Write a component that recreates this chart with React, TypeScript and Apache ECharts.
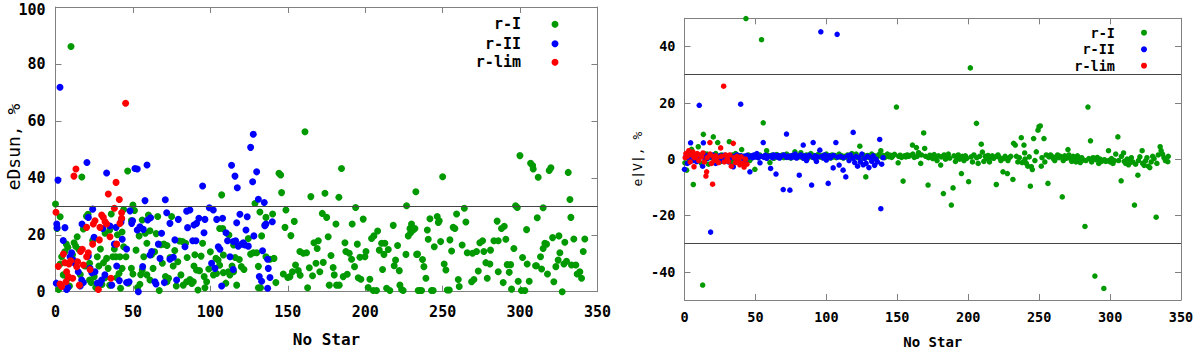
import React, { useEffect, useRef } from "react";
import * as echarts from "echarts";

// ---------- data (x = star number, y = value) ----------
const leftGreen: number[][] = [
  [0,30.8],[1,22.2],[2,0.8],[3,26.3],[3,9.7],[4,12.3],[5,5.9],[6,14],[7,16.7],[8,15.6],[8,4.7],[9,2],[10,86.1],[11,13],[12,17.2],[13,16.0],[14,19.3],[15,14.9],[16,6],[17,40.3],[18,22],[19,9],[20,26.5],[21,27.2],[22,10],[22,4.1],[23,3.2],[24,18],[25,5.3],[26,1.5],[27,12.3],[28,9],[29,15],[30,2.5],[31,10.2],[32,20.5],[32,4.9],[33,11.7],[34,8.2],[35,2.3],[35,21.7],[36,27.3],[37,12.3],[38,15],[39,12.3],[39.5,4.9],[40,20],[41,6.4],[41.6,12.3],[42,1.2],[43,8.2],[43,21],[44,28.9],[44,15.8],[45.5,12.3],[46.6,42.4],[47,3],[49,25],[49,8.2],[50,30.4],[51,28.5],[50,6.2],[52,14.6],[53,1.5],[54,19.6],[54.5,2.6],[55,6],[56,25.2],[56,7.6],[57,12.3],[58,20.5],[59,17],[59,5.9],
  [60,26.9],[61,21.4],[61,4.1],[62,13],[63,8.2],[64,14],[65,20.4],[66,26.4],[67,0.4],[68,16.5],[69,10],[70,16.7],[71,5.3],[72,16.2],[72,3.5],[73,4.7],[74,12],[75,26.4],[76,9],[77,14.5],[78,2],[79,10.5],[80,17.8],[81,5.9],[82,17.6],[82.5,2.3],[84,17],[84.7,3.5],[85,12],[86.8,4.3],[88,2.9],[89,3.5],[89.4,9],[90,13],[91,7.6],[92,0.6],[93,7.4],[94,12.5],[95,17],[96,5.3],[96.5,1.4],[97.6,3.5],[99,8],[100,14],[102,5.9],[103.6,11.7],[104,6.4],[105,11.1],[106,22.2],[106,9.3],[107.3,34],[108,22.2],[108.4,12.9],[108.4,6.7],[110,3],[111.6,7],[112,19.9],[112.6,5.9],[114,9],[115,7],[115,16.4],[116,12],[117,2.3],
  [118.7,11.3],[120,8.8],[121.7,7.8],[124.5,18.7],[126,13.2],[127.7,13.7],[128.8,31],[129.9,13.7],[131,8.9],[131,1.4],[132,28],[132.4,1.4],[133.1,19.6],[135.2,23.4],[135.9,26.1],[135.9,12.3],[138.5,11.4],[140.2,27.3],[141.1,11.7],[142.3,3.2],[144.3,41.6],[145.4,41],[146,34.8],[147.1,6.2],[148.2,22.6],[148.8,28.7],[150,5],[151.4,5.3],[152,19.7],[153,7],[154.2,24.7],[155,9.4],[156.8,7.4],[157.8,14.1],[158,5.8],[160,13.5],[161.1,56.2],[162.1,13.7],[162.8,1.4],[163.9,8.4],[164.9,33.4],[166,5.6],[166.9,17.2],[168.2,10],[169,15.2],[169.7,17.9],[170.7,7],[172.3,27.5],[172.9,10.3],[174,34.6],[175.1,26.1],[176.1,19.3],[176.8,2.3],[177.9,12.7],[179.3,8.5],[180,5.9],[181.1,23.8],[181.5,2.3],[183,33.2],[183.2,2.3],[184.7,43.3],[185.8,5.3],[186.9,17.2],[187.5,14.1],[188.4,6.1],[189.7,13.5],[191.2,11.4],[191.6,23.8],[193.1,8.8],[193.8,29.6],[194.9,16.7],[195.5,4.9],[196.6,12.1],[197.2,4.4],[198.7,25.5],[199.8,12.3],[200.5,14.1],[201.9,1.5],[203,4.4],[204.1,18.7],[205.2,0.4],[205.6,19.6],[207.3,0.4],[208,21.3],[209.1,14.6],[210.6,17],[211.2,7.8],[212.1,13.1],[212.7,17],[213.8,1.2],[214.9,14.8],[215.9,0.4],[218.1,23.3],[218.7,9.1],[219.6,11.1],[220.9,16.2],[222,7.4],[222.4,2.3],[223.5,0.8],[224.5,0.4],[226.3,13.1],[226.7,30.2],[227.8,19.6],[228.9,22.2],[229.9,23.8],[231,21.7],[232.7,35.1],[233.2,13.1],[234.2,0.4],
  [229.3,20.7],[232.1,22.2],[233.8,13.2],[235.3,0.4],[236.4,0.4],[237,11.3],[237.9,8.8],[239.2,4.7],[240.1,21.7],[240.7,18.4],[241.8,25.6],[242.8,0.4],[243.9,0.4],[244.6,15.8],[246.5,26.4],[247.2,24.3],[247.8,24.9],[248.7,17.6],[250,40.4],[251,9.7],[252.1,7.6],[253,0.6],[254.3,0.6],[254.7,18.2],[255.8,14.3],[256.8,22.6],[257.9,22.2],[259,27.3],[260.1,4.3],[260.7,1.8],[262.6,16.4],[264,29.3],[265,24.5],[265.9,13.7],[268.7,3.5],[269.3,13.5],[270.2,4.3],[271.9,14.1],[273,7.3],[274,17.2],[275.8,17.9],[276.6,14.1],[277.9,10.2],[278.8,4.7],[280.5,9.7],[280.9,14.6],[283.1,17.9],[285.2,24.8],[285.9,7],[285.9,17.9],[288,22.2],[289.1,3.2],[289.8,23],[290.8,18.4],[291.7,9.5],[293,6.8],[293.9,9.5],[294.5,0.9],[296,15.2],[297.1,30.2],[298.2,29.6],[298.8,3.7],[299.9,47.8],[300.9,0.4],[301.6,12],[303.1,0.4],[304.2,21.8],[304.6,9.7],[305.9,3.7],[306.8,45.1],[308.1,44.3],[308.5,43.1],[310,9.1],[310.6,9.1],[311.1,26],[311.7,40.2],[313.2,12.3],[313.9,8],[314.9,15.2],[314.9,29.5],[316,17],[317.1,16.7],[317.7,6.2],[318.8,42.6],[319.9,43.5],[321,19],[321.8,3.5],[323.1,8.8],[324.6,11.1],[325.1,19.6],[325.7,13.7],[327.2,0],[328.3,9.7],[328.9,17.4],[330,10.7],[331.1,41.9],[332.2,32.4],[332.8,26.1],[333.2,9.4],[334.7,18.5],[336,9.4],[336.9,6.2],[338.6,7],[339.7,4.7],[340.8,14.1],[341.8,18.5]
];
const leftBlue: number[][] = [
  [0.8,23.8],[1,22.5],[1.6,39.2],[0.5,3],[2.9,71.8],[5,18],[6.1,22.5],[7.2,0.8],[8,1.5],[9.4,12.3],[10.4,13.7],[11.5,11.1],[12.6,9.9],[14.7,7],[16,2],[16.9,4.1],[17.1,23.8],[18,3.2],[20.3,45.4],[21.2,12.5],[21.2,26.1],[22.3,8.2],[23.4,6.7],[24,29],[24.9,19.1],[25.5,7],[27,3],[28.7,2.9],[29.8,4.1],[30.5,22.2],[31.9,5.9],[33,41.7],[35.2,23.1],[36.3,2.3],[38,16.7],[39.1,22.6],[39.5,9],[41.2,3.9],[42.3,24.4],[42.7,25.5],[43.1,18.4],[45.9,15],[45.9,3.2],[47.5,3.5],[48.1,28.4],[49.2,24],[49.8,24.9],[51.3,43.3],[52.8,43.1],[52.8,21.7],[53.5,0],[54.5,22.8],[56.3,8.8],[56.7,21.9],[57.8,32],[59.1,44.5],[59.5,25.2],[61,12.9],[61.4,26],[62.1,14.1],[64.2,3.5],[64.9,2.7],[66.4,16.7],[67.5,11.7],[68.5,20.5],[70.3,3.2],[70.9,32.3],[71.8,27.7],[73.9,24],[73.9,11.4],[76.1,12.1],[77.1,18.2],[78.2,4.1],[79.3,25.4],[83.6,15.8],[84.7,28.3],[85.3,22.5],[86.8,28.7],[88.6,17.9],[89.4,23.4],[90.7,17.9],[91.1,24],[92.6,25.8],[95,37.1],[95.9,20.7],[96.5,25.4],[99.3,29.5],[100.8,10],[101.9,28.7],[103,8.2],[104.1,25.4],[105.1,15.8],[106.2,14.9],[107.3,2],[107.9,25.8],[110.1,20.7],[111.1,17.9],[112.7,12.3],[113.7,44.4],[114.8,17.6],[114.8,7.8],[115.9,40.6],[116.3,17.9],[117,24.2],[117.4,36.5],[118,16],[119.1,27.2],[120.2,16.7],[121.3,17.2],[122.3,16.4],[123,21.7],[123.8,26.3],[124.5,16],[126,50.7],[127.3,38.6],[127.7,55.3],[128.1,19.6],[129.9,42.1],[131,32.5],[131.6,5.3],[133.1,3.7],[133.7,14.4],[134.8,31.3],[135.2,23.2],[135.9,23.8],[137,11.4],[137,1.2],[137.4,8.2],[138.5,5],[140,24.6]
];
const leftRed: number[][] = [
  [0.3,27.9],[1.8,8.9],[2.9,2.7],[4,1.8],[5.1,13.2],[6.1,10.2],[6.8,3.5],[7.2,7],[8.3,5.3],[8.7,9.7],[9.8,10.9],[11.1,4.7],[11.9,40.6],[13.2,43.1],[13.7,8.8],[14.3,10.5],[15.4,2.3],[16.2,14.1],[17.3,14.9],[18,9.4],[20.1,12.3],[20.1,22.6],[21.2,13.7],[22.3,7.8],[24,16.7],[24.4,23.8],[25.5,24.9],[27.7,0.8],[28.3,18.2],[28.7,22.6],[29.8,26.9],[30.9,26.1],[32,24.6],[33,23.8],[34.1,34.3],[35.2,19.3],[35.8,4.7],[38,29.3],[39.1,38.4],[39.5,16.7],[41.2,32.4],[41.6,24],[42.7,25.8],[42.7,27.7],[45.3,66.2]
];

const rightGreen: number[][] = [
  [0.3,-1.3],[1.5,-3.9],[3,-1],[4,2],[5,3.5],[6.2,-9],[7,0.5],[8,1.5],[9.7,4.4],[11,1],[12,-1.5],[12.8,-44.7],[13.3,8.8],[14,2],[15,0],[16,1.8],[17,-1.8],[18,0.5],[19,1],[20.3,7.9],[21,-0.5],[22,2],[23.4,5.9],[24,0.5],[25,-1],[26,1.5],[27,0.8],[28,-0.5],[29,1],[30,0],[31.6,6.2],[32,1.2],[33,-1],[34,1.5],[35,0.3],[36,2],[37,1],[38,-0.8],[39,1.2],[40.3,3.4],[41,0.5],[42,1],[43.3,49.9],[44,0.8],[45,1.5],[46,-0.5],[47,1],[48,0.5],[49.6,-3.6],[50,1],
  [51,1.2],[52,0.5],[53,1.5],[54.3,42.4],[55.5,12.9],[56,1],[57.9,3],[58,0.5],[59,1.3],[60.2,-1.2],[61,0.8],[62,1.5],[63,0.3],[64,1],[65,1.6],[66,0.6],[67,1.2],[68,0.8],[69,1.5],[70,0.5],[71,1],[72,1.8],[73,0.6],[74,1.2],[75,0.4],[76,1],[77.8,2.6],[78,0.8],[79,1.4],[80,0.6],[81,1.1],[82,2.3],[83,0.5],[84,1.2],[85,0.8],[86,1.5],[87,0.4],[88,1],[89,2],[90,0.7],[91,1.3],[92,0.3],[93,1],[94,1.6],[95,0.8],[96,1.2],[97,0.5],[98,1.4],[99,0.9],[100,1.8],[101,0.6],[102,1.1],[103,0.4],[104,1.5],[105,0.8],[106,1.3],[107,0.5],[108,1],[109,1.8],[110,0.7],[111,1.2],[112,0.4],[113,1],
  [114,0.8],[115,1.5],[116,0.3],[117,1.2],[118,2],[119,0.6],[120,1],[121,1.8],[122,0.5],[123.6,4.6],[124,1],[125,0.4],[126,1.5],[127.8,-6.3],[128,0.8],[129,1.3],[130,0.5],[131,1.1],[132,1.8],[133,0.7],[134,1.2],[135,0.3],[136,1],[137,1.6],[138.4,3],[139,0.8],[140,1.3],[141,0.5],[142,1.2],[143,1.8],[144,0.9],[145,1.4],[146,0.6],[147,1.2],[148,1.7],[149.4,18.5],[150.6,-1.3],[151,1],[152,1.4],[153,0.6],[154.1,-7.8],[155,1.2],[156,0.8],[157,1.5],[158,1],[159,1.3],[160.7,5],[161,1.8],[162,0.6],[163.5,4.1],[164,1],[165,2.3],[166.5,-1.5],[167,1.5],[168.6,9.3],[169.3,3.8],[170,1],[171.7,-9.2],[172,0.5],[173,1.4],[174,0.8],[175,0.2],[176,1.6],[177,0.5],[178,-0.5],[179,1.2],[180.6,-2.1],[181,0.8],[182.5,-12.2],[183,1.5],[184,0],[185,1],[186,1.8],[187,0.4],[188.1,-16.3],[189.3,-10.2],[190,1.2],[191,-0.8],[192,0.6],[193,1.5],[194,0],[195.2,-5.1],[196,1],[197,-0.5],[198,1.2],[199,0.3],[200.3,-8],[201.5,32.4],[202,0.8],[203,-1],[204,1.5],[205.8,12.7],[206,0.5],[207,-1.5],[208,1],[209.2,5.3],[210,2.5],[211,-0.8],[212,1],[213,0.2],[214,1.3],[215,-1],[216,0.5],[217,1.2],[218,0.3],[219.8,-9],[220,1],[221,1.5],[222,0.6],[223,-0.5],[224.5,-4.5],[225,0.2],[226,1],[227.6,-5.1],[228,-0.5],[229,0.5],[230,1],[231.5,-7.2],[232,5.6],
  [233.2,5],[234,1],[235,-1],[236,0.5],[237.4,7.6],[238,-1.2],[239.3,5],[239.8,2.2],[240,0],[241,-1.5],[242,-2.5],[243,0.8],[243.8,-9.6],[244.5,-2.7],[245.2,-3.7],[246.1,7.3],[247,-0.5],[248,2.6],[249.2,10.3],[249.9,11.5],[250.8,11.8],[251.5,-2.5],[252,0.5],[253.4,7.3],[254,-1],[255,1.5],[256.2,-8.6],[257,0.8],[258,1.5],[259,1],[260,0.2],[261,-0.5],[262,0.8],[263,1.5],[264,0.5],[265,1],[266.3,-13.4],[267,-0.5],[268,1.2],[269,0.3],[270.3,3.4],[271,1.5],[272,0.2],[273,-0.8],[274,1],[275,0.5],[276,-1],[277,1.2],[278,0],[279,-1.2],[280,0.5],[281,-0.3],[282.3,-23.9],[283,-0.5],[284.4,18.5],[285,0.2],[286.2,6.5],[287,-1],[288,0.5],[289.3,-41.5],[290,-0.2],[291,0.6],[292,-1.5],[293,0],[294,-0.8],[295.6,-45.9],[296,-0.2],[297,-0.8],[298.9,3],[299,-0.5],[300,-1],[301,0.2],[302,-1.5],[303,-0.5],[304,1.8],[305.5,7.9],[306,-0.5],[307.8,-7.7],[308,1],[309.5,2.2],[310,-0.8],[311,-1.5],[312,0],[313,-2],[314,-1.2],[315,0.5],[316,-1],[317.2,-16.3],[318,-1.8],[319.6,-5.7],[320,-0.5],[321,0.8],[322.6,3],[323,-1.5],[324,-2.2],[325,-0.6],[326,0.5],[327,-2.5],[328,-3],[329,-1],[330,1],[331,0.2],[332.5,-20.6],[333,-1.5],[334,1.5],[335.3,4.4],[336,3],[337,1.8],[338,0.5],[339,-0.5],[340.7,-0.9],[341,1]
];
const rightBlue: number[][] = [
  [0,-3.6],[1,1],[2,-1.5],[3,0.5],[4.3,5.8],[5,1.2],[6,-0.5],[7,1.5],[8.6,-0.9],[9,0.8],[10.4,19.1],[11,1.2],[12.8,-2.5],[13.3,5.8],[14,0.5],[15,1.3],[16,0.2],[17,1],[18.4,-25.9],[19,0.8],[20,1.5],[21,0.3],[22,-1.5],[23,1],[24,0.5],[25,1.2],[26,-0.5],[27,0.8],[28,1.4],[29,0.2],[30,1],[31,-1],[32,1.3],[33,0.5],[34.4,-2.7],[35,1],[36,0.4],[37,1.5],[38,0.7],[39.6,19.5],[40,1.2],[41,0.3],[42,1],[43,-0.5],[44,1.3],[45,0.6],[46.1,-4.5],[47,1.2],[48,0.5],[49,1.5],[50,0.8],[51,2],[52,0.5],[53.2,-1.3],[54,1],[55.5,5.9],[56,0.6],[57,1.4],[58,0.3],[59,1],[60.7,-3.3],[61,1.2],[62,0.5],[63,1.5],[64.5,-5.3],[65,0.8],[66,1.3],[67,0.4],[68,1],[69.6,-10.8],[70,1.5],[71.9,8.9],[72,0.6],[73,1.1],[74.3,-11],[75,0.5],[76,1.3],[77,0.8],[78,1.8],[79,0.4],[80.9,-5.7],[81,1],[82,1.5],[83.7,5],[84,0.3],[85,1.2],[86,-0.5],[87,0.8],[88,1.4],[89.6,-9.2],[90.7,5.9],[91,0.5],[92,1.2],[93,-0.8],[94,0.8],[95.4,3.2],[96.1,45.2],[97,1],[98,0.4],[99,1.5],[100,-0.3],[101.3,-8.6],[102,1.2],[103,0.5],[104.8,-3.1],[105,1.3],[106.7,5.9],[107.6,44.3],[108,0.7],[109,-2.1],[110,1],[111.8,-3.9],[112,0.5],[113.7,-6.3],[115,1.2],[116,-0.5],[117,1.5],[118.9,9.5],[119,0.3],[120,-1.2],[121,1],[122,-2.5],[123,0.5],[124,-1],[125,1.8],[126,-2],[127,0.2],[128,-1.5],[129,1],[130,-3],[131,0.5],[132,-0.8],[133,1.2],[134,-2.2],[135,0],[136,-1],[137.6,7],[138.4,-17.6],[139,-1.8],[140,0.5]
];
const rightRed: number[][] = [
  [0.5,0.5],[1,2],[2,1],[3,3],[4,-1],[5,1.5],[6,2.5],[6.7,-2.7],[7,0.5],[8,1],[9,2],[10,-0.5],[11,1.5],[12,0.8],[13,2.2],[14,-1],[15.1,-6],[15.6,-4.5],[16,0.5],[17.9,5.9],[18,1.8],[19,-1.5],[19.8,-8.9],[20,1],[21,-0.5],[22,1.2],[23,0.5],[24,-1.2],[25.5,4],[26,1],[27.6,25.9],[28,-1],[29,1.5],[30,0.2],[31,-0.8],[32,1.5],[33,-2.5],[34.4,5.6],[35,0.5],[36,-1.2],[37,1],[38,-0.5],[39,-2],[40,0.8],[41,-1.5],[42,-2.8],[43,0],[44,-1.8]
];

const seriesNames = ["r-I", "r-II", "r-lim"];
const seriesColors = ["#009900", "#0000ff", "#ff0000"];
const leftLimit = [30];
const rightLimits = [30, -30];
const leftYTitle = "eDsun, %";

const FONT = "DejaVu Sans Mono";
const BORDER = "#808080";

function frameAxis(grid: number, pos: string, min: number, max: number, extra: any = {}) {
  return {
    type: "value",
    gridIndex: grid,
    position: pos,
    min,
    max,
    axisLine: { show: true, onZero: false, lineStyle: { color: BORDER, width: 1 } },
    axisTick: { show: true, inside: true, length: 6, lineStyle: { color: BORDER } },
    axisLabel: { show: false },
    splitLine: { show: false },
    ...extra,
  };
}

export default function App() {
  const ref = useRef<HTMLDivElement>(null);
  useEffect(() => {
    if (!ref.current) return;
    const chart = echarts.init(ref.current, undefined, { renderer: "svg" });
    const lblL = { show: true, fontFamily: FONT, fontWeight: "bold", fontSize: 15, color: "#000" };
    const lblR = { show: true, fontFamily: FONT, fontWeight: "bold", fontSize: 13.5, color: "#000" };
    const refLine = (vals: number[]) => ({
      silent: true,
      symbol: "none",
      label: { show: false },
      lineStyle: { color: "#444", width: 1, type: "solid" },
      data: vals.map((v) => ({ yAxis: v })),
    });
    const legend = (xText: number, xDot: number, ys: number[], size: number, r: number) =>
      ys.flatMap((y, i) => [
        {
          type: "text",
          x: xText,
          y,
          style: {
            text: seriesNames[i],
            fontFamily: FONT,
            fontWeight: "bold",
            fontSize: size,
            fill: "#000",
            textAlign: "right",
            textVerticalAlign: "middle",
          },
        },
        { type: "circle", shape: { cx: xDot, cy: y, r }, style: { fill: seriesColors[i] } },
      ]);
    const pts = (size: number, color: string) => ({
      symbolSize: size,
      itemStyle: { color, opacity: 1 },
    });

    chart.setOption({
      animation: false,
      backgroundColor: "#fff",
      grid: [
        { left: 55.5, top: 7, width: 542, height: 284.7, outerBoundsMode: "none", containLabel: false },
        { left: 684.5, top: 18.3, width: 496.5, height: 281.7, outerBoundsMode: "none", containLabel: false },
      ],
      xAxis: [
        frameAxis(0, "bottom", 0, 350, {
          interval: 50,
          axisLabel: { ...lblL, margin: 13 },
          name: "No Star",
          nameLocation: "middle",
          nameGap: 40,
          nameTextStyle: { fontFamily: FONT, fontWeight: "bold", fontSize: 16, color: "#000" },
        }),
        frameAxis(0, "top", 0, 350, { interval: 50 }),
        frameAxis(1, "bottom", 0, 350, {
          interval: 50,
          axisLabel: { ...lblR, margin: 10 },
          name: "No Star",
          nameLocation: "middle",
          nameGap: 35,
          nameTextStyle: { fontFamily: FONT, fontWeight: "bold", fontSize: 14, color: "#000" },
        }),
        frameAxis(1, "top", 0, 350, { interval: 50 }),
      ],
      yAxis: [
        frameAxis(0, "left", 0, 100, {
          interval: 20,
          axisLabel: {
            ...lblL,
            margin: 10,
            formatter: (v: number) => (v === 100 ? `{top|${v}}` : `${v}`),
            rich: {
              top: { fontFamily: FONT, fontWeight: "bold", fontSize: 15, color: "#000", padding: [6, 0, 0, 0] },
            },
          },
        }),
        frameAxis(0, "right", 0, 100, { interval: 20 }),
        frameAxis(1, "left", -50, 50, {
          splitNumber: 5,
          axisLabel: { ...lblR, margin: 9, showMinLabel: false, showMaxLabel: false },
          name: "e|V|, %",
          nameLocation: "middle",
          nameGap: 41,
          nameTextStyle: { fontFamily: FONT, fontSize: 13, color: "#000" },
        }),
        frameAxis(1, "right", -50, 50, { splitNumber: 5 }),
      ],
      series: [
        { type: "scatter", name: seriesNames[0], xAxisIndex: 0, yAxisIndex: 0, data: leftGreen, ...pts(7, seriesColors[0]), markLine: refLine(leftLimit) },
        { type: "scatter", name: seriesNames[1], xAxisIndex: 0, yAxisIndex: 0, data: leftBlue, ...pts(7, seriesColors[1]) },
        { type: "scatter", name: seriesNames[2], xAxisIndex: 0, yAxisIndex: 0, data: leftRed, ...pts(7, seriesColors[2]) },
        { type: "scatter", name: seriesNames[0], xAxisIndex: 2, yAxisIndex: 2, data: rightGreen, ...pts(5.5, seriesColors[0]), markLine: refLine(rightLimits) },
        { type: "scatter", name: seriesNames[1], xAxisIndex: 2, yAxisIndex: 2, data: rightBlue, ...pts(5.5, seriesColors[1]) },
        { type: "scatter", name: seriesNames[2], xAxisIndex: 2, yAxisIndex: 2, data: rightRed, ...pts(5.5, seriesColors[2]) },
      ],
      graphic: [
        {
          type: "text",
          x: 13,
          y: 147,
          rotation: Math.PI / 2,
          style: {
            text: leftYTitle,
            fontFamily: FONT,
            fontSize: 18,
            fill: "#000",
            textAlign: "center",
            textVerticalAlign: "middle",
          },
        },
        ...legend(521, 555, [24.3, 43.7, 62.3], 15, 3.5),
        ...legend(1115, 1144, [32.7, 49.3, 65.7], 13.5, 3),
      ],
    });
    return () => chart.dispose();
  }, []);
  return (
    <div
      ref={ref}
      style={{ position: "fixed", left: 0, top: 0, width: 1200, height: 349, background: "#fff" }}
    />
  );
}
